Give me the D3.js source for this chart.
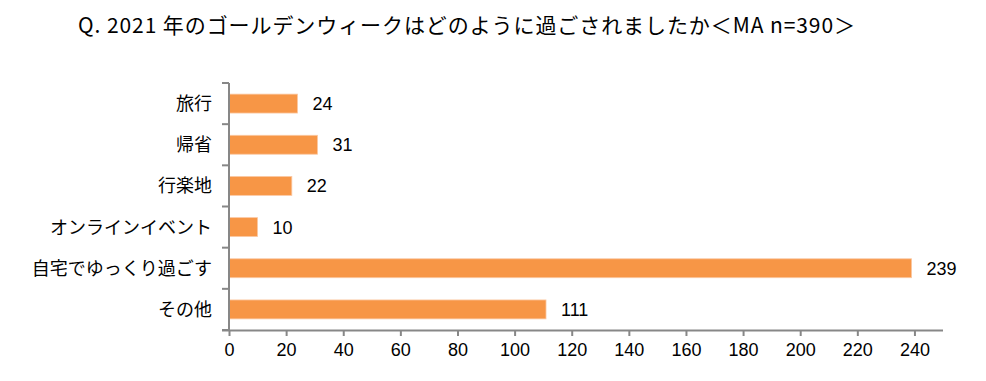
<!DOCTYPE html>
<html>
<head>
<meta charset="utf-8">
<script src="https://cdn.jsdelivr.net/npm/d3@7"></script>
<style>
    body { margin: 0; background: #fff; }
    text { font-family: "Noto Sans CJK JP", "Noto Sans", sans-serif; fill: #000; }
    .num { font-family: "Liberation Sans", Arial, sans-serif; }
</style>
</head>
<body>
<div id="chart"></div>
<script>
// Chart data
const titleText = 'Q. 2021 年のゴールデンウィークはどのように過ごされましたか＜MA n=390＞';
const categories = ['旅行', '帰省', '行楽地', 'オンラインイベント', '自宅でゆっくり過ごす', 'その他'];
const values = [24, 31, 22, 10, 239, 111];
const xTicks = [0, 20, 40, 60, 80, 100, 120, 140, 160, 180, 200, 220, 240];

const width = 986;
const height = 381;
const margin = { top: 83, right: 43, bottom: 51, left: 229 };

const svg = d3.select('#chart')
    .append('svg')
    .attr('width', width)
    .attr('height', height);

// Title
svg.append('text')
    .attr('x', 78)
    .attr('y', 33)
    .attr('textLength', 777)
    .attr('lengthAdjust', 'spacing')
    .style('font-size', '21px')
    .text(titleText);

const x = d3.scaleLinear()
    .domain([0, 250])
    .range([margin.left, width - margin.right]);

const y = d3.scaleBand()
    .domain(categories)
    .range([margin.top, height - margin.bottom])
    .paddingInner(0.54)
    .paddingOuter(0.27);

// Bars
svg.selectAll('.bar')
    .data(values)
    .enter()
    .append('rect')
    .attr('class', 'bar')
    .attr('x', x(0))
    .attr('y', (d, i) => y(categories[i]))
    .attr('width', d => x(d) - x(0))
    .attr('height', y.bandwidth())
    .attr('fill', '#F79646')
    .attr('stroke', '#FBC9A4')
    .attr('stroke-width', 0.8);

// Value labels
svg.selectAll('.value-label')
    .data(values)
    .enter()
    .append('text')
    .attr('class', 'value-label num')
    .attr('x', d => x(d) + 15)
    .attr('y', (d, i) => y(categories[i]) + y.bandwidth() / 2)
    .attr('dy', '0.36em')
    .style('font-size', '18px')
    .text(d => d);

// X axis
const xAxis = svg.append('g')
    .attr('transform', `translate(0, ${height - margin.bottom})`)
    .call(d3.axisBottom(x).tickValues(xTicks).tickSize(6).tickSizeOuter(0).tickPadding(7));

xAxis.select('.domain')
    .attr('d', `M${x(0) - 7},0.5H${width - margin.right}`);
xAxis.selectAll('line, path').attr('stroke', '#878787').attr('stroke-width', 2);
xAxis.selectAll('text')
    .attr('class', 'num')
    .style('font-size', '18px')
    .attr('fill', '#000');

// Y axis: line with ticks at category boundaries
const yAxis = svg.append('g');
yAxis.append('line')
    .attr('x1', x(0)).attr('x2', x(0))
    .attr('y1', margin.top).attr('y2', height - margin.bottom)
    .attr('stroke', '#878787').attr('stroke-width', 2);

const boundaries = d3.range(categories.length + 1).map(i => margin.top + i * (height - margin.top - margin.bottom) / categories.length);
yAxis.selectAll('.ytick')
    .data(boundaries)
    .enter()
    .append('line')
    .attr('x1', x(0) - 7).attr('x2', x(0))
    .attr('y1', d => d).attr('y2', d => d)
    .attr('stroke', '#878787').attr('stroke-width', 2);

// Category labels
svg.selectAll('.cat-label')
    .data(categories)
    .enter()
    .append('text')
    .attr('class', 'cat-label')
    .attr('x', 212)
    .attr('y', d => y(d) + y.bandwidth() / 2)
    .attr('dy', '0.36em')
    .attr('text-anchor', 'end')
    .style('font-size', '18px')
    .text(d => d);
</script>
</body>
</html>
